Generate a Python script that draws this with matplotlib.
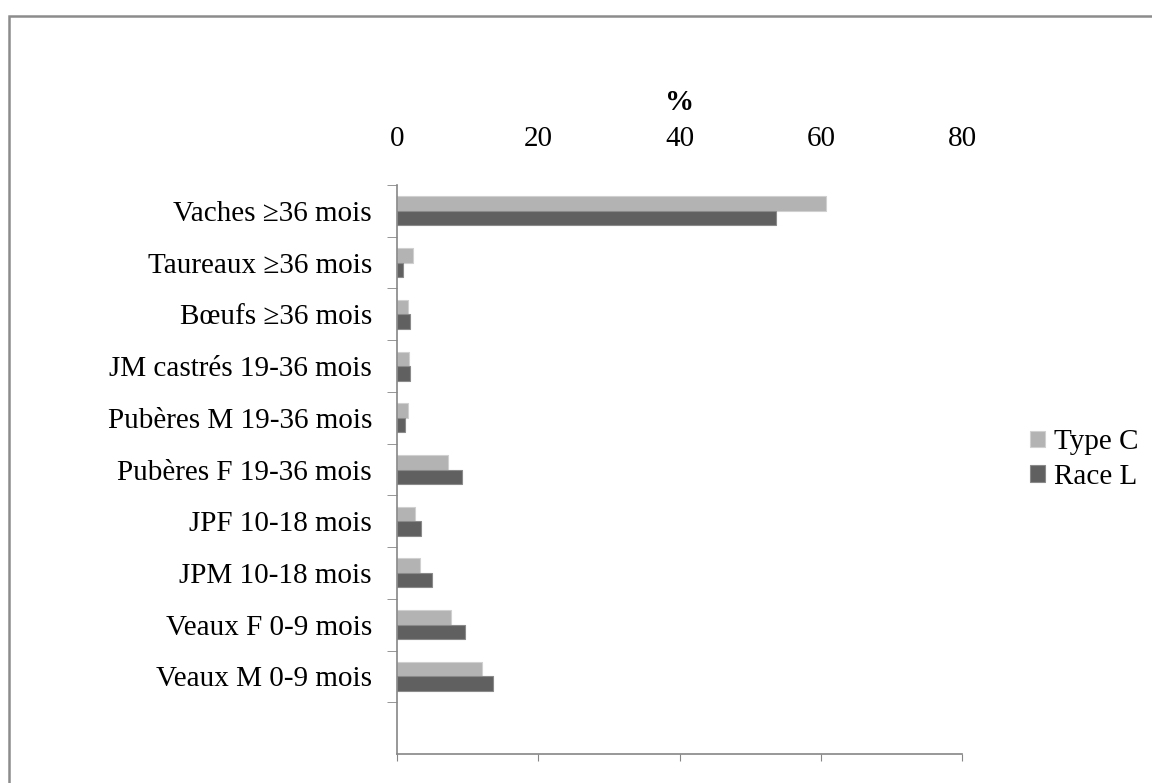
import matplotlib
matplotlib.use('Agg')
import matplotlib.pyplot as plt
import numpy as np
from matplotlib.patches import Rectangle

plt.rcParams['font.family'] = ['Liberation Serif', 'DejaVu Serif']

categories = ['Vaches ≥36 mois', 'Taureaux ≥36 mois', 'Bœufs ≥36 mois',
              'JM castrés 19-36 mois', 'Pubères M 19-36 mois',
              'Pubères F 19-36 mois', 'JPF 10-18 mois', 'JPM 10-18 mois',
              'Veaux F 0-9 mois', 'Veaux M 0-9 mois']
type_c = [60.7, 2.2, 1.6, 1.7, 1.6, 7.2, 2.6, 3.3, 7.6, 12.1]
race_l = [53.7, 0.9, 1.8, 1.9, 1.2, 9.2, 3.4, 4.9, 9.6, 13.6]
x_ticks = [0, 20, 40, 60, 80]

fig = plt.figure(figsize=(11.52, 7.83), dpi=100)
ax = fig.add_axes([0.3446, 0.037, 0.4905, 0.7267])

y = np.arange(len(categories))
h = 0.28
ax.barh(y - h / 2, type_c, height=h, color='#b3b3b3', edgecolor='#d0d0d0',
        linewidth=0.8, label='Type C')
ax.barh(y + h / 2, race_l, height=h, color='#606060', edgecolor='#8a8a8a',
        linewidth=0.8, label='Race L')

ax.set_xlim(0, 80)
ax.set_ylim(len(categories) + 0.5, -0.5)

# Etiquettes en haut, axe en bas
ax.set_xticks(x_ticks)
ax.tick_params(axis='x', bottom=True, top=False, labelbottom=False, labeltop=True,
               direction='out', length=5, color='#868686', labelsize=21, pad=19)
ax.set_xlabel('%', fontsize=21, fontweight='bold', labelpad=11)
ax.xaxis.set_label_position('top')

ax.set_yticks(y)
ax.set_yticklabels(categories)
ax.set_yticks(np.arange(-0.5, len(categories) + 0.5, 1.0), minor=True)
ax.tick_params(axis='y', which='major', length=0, labelsize=21, pad=18)
ax.tick_params(axis='y', which='minor', length=7, color='#868686', direction='out')

for s in ['top', 'right']:
    ax.spines[s].set_visible(False)
for s in ['left', 'bottom']:
    ax.spines[s].set_color('#868686')
    ax.spines[s].set_linewidth(1.2)

fig.legend(loc='center left', bbox_to_anchor=(0.8715, 0.413), frameon=False,
           fontsize=21, handlelength=0.5, handleheight=0.5, handletextpad=0.3,
           labelspacing=0.3)

# Cadre du graphique (coupé à droite et en bas)
fig.patches.append(Rectangle((0.0078, -0.05), 1.05, 1.05 - 0.0204, transform=fig.transFigure,
                             fill=False, edgecolor='#8c8c8c', linewidth=1.8))

plt.savefig('out.png', dpi=100)
